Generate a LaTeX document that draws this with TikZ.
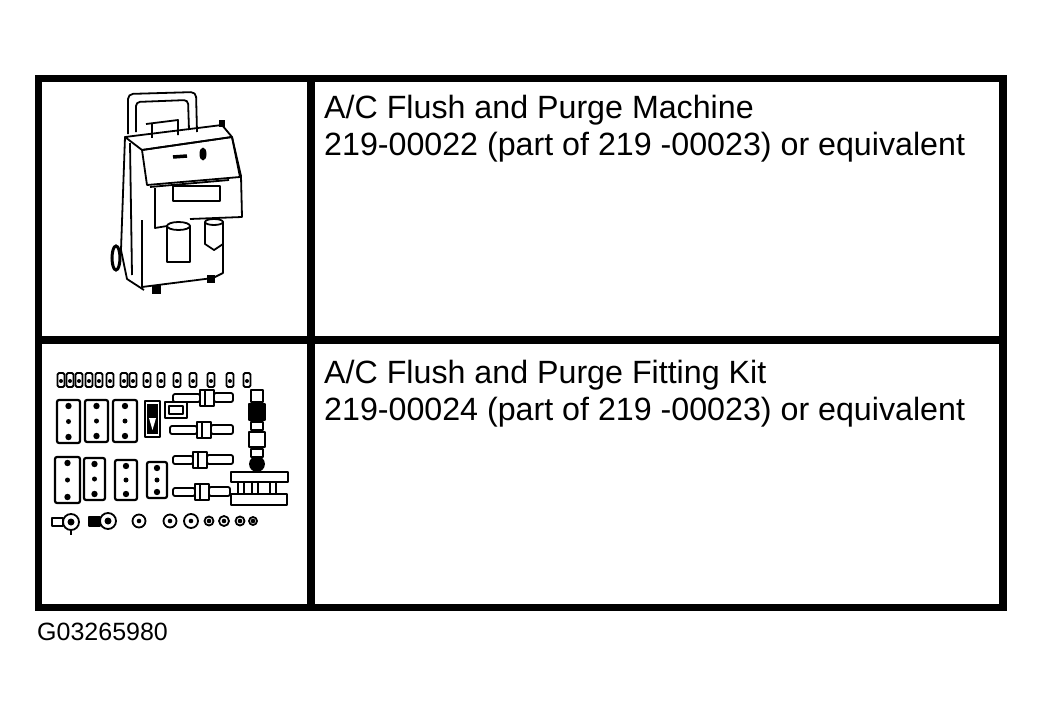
\documentclass[tikz,border=0pt]{standalone}
\usepackage{fontspec}
\setmainfont{Liberation Sans}
\tikzset{
	frame/.style={line width=7.5pt},
	part/.style={line width=1.8pt, line join=round},
	cell text/.style={anchor=base west, inner sep=0pt, font=\fontsize{32.2}{37}\selectfont},
	fig id/.style={anchor=base west, inner sep=0pt, font=\fontsize{25}{28}\selectfont}
}

\begin{document}
\begin{tikzpicture}[x=1pt, y=-1pt]
	\useasboundingbox (0,0) rectangle (1044,717);
	% table
	\draw[frame] (38.5,78.5) rectangle (1003,607.5);
	\draw[frame] (311,78.5) -- (311,607.5);
	\draw[frame] (38.5,340) -- (1003,340);
	% texts
	\node[cell text] (machineName) at (324,118) {A/C Flush and Purge Machine};
	\node[cell text] (machineNo) at (324,155) {219-00022 (part of 219 -00023) or equivalent};
	\node[cell text] (kitName) at (324,383) {A/C Flush and Purge Fitting Kit};
	\node[cell text] (kitNo) at (324,420) {219-00024 (part of 219 -00023) or equivalent};
	\node[fig id] (figId) at (37,640) {G03265980};
	% flush machine
	\draw[part, rounded corners=5pt] (128,134) -- (128,94) -- (196,92) -- (197,132);
	\draw[part, rounded corners=4pt] (136,132) -- (136,102) -- (188,100) -- (189,130);
	\draw[part] (146,124) -- (178,120) -- (178,135);
	\draw[part] (152,123) -- (152,138);
	\fill (219,120) rectangle (225,127);
	\draw[part] (125,137) -- (222,125) -- (232,137) -- (142,150) -- cycle;
	\draw[part] (142,150) -- (232,137) -- (240,177) -- (147,185) -- cycle;
	\draw[part] (232,137) -- (241,176) -- (242,217) -- (190,219);
	\draw[part] (150,187) -- (229,180);
	\draw[part] (173,186) rectangle (220,201);
	\draw[part] (155,188) -- (155,228) -- (167,226);
	\draw[part] (125,137) -- (121,250) -- (127,279) -- (144,290);
	\draw[part] (130,143) -- (132,275);
	\draw[part] (142,220) -- (142,287) -- (213,278) -- (223,273) -- (223,222);
	\draw[line width=3pt] (116,258) ellipse[x radius=4pt, y radius=12pt];
	\fill (152,285) rectangle (161,294);
	\fill (207,275) rectangle (215,283);
	\draw[part] (167,226) -- (167,262) -- (190,262) -- (190,226);
	\draw[part] (178.5,226) ellipse[x radius=11.5pt, y radius=4pt];
	\draw[part] (205,222) -- (205,244) -- (214,250) -- (223,244) -- (223,222);
	\draw[part] (214,222) ellipse[x radius=9pt, y radius=3pt];
	\draw[line width=3.5pt] (173,157) -- (187,156);
	\fill (203,154) ellipse[x radius=3.5pt, y radius=6.5pt];
	% fitting kit: caps
	\foreach \cx in {61,70,79,89,99,110,124,133,147,161,177,193,211,230,247} {
		\draw[part, rounded corners=1.5pt] (\cx-3.5,373) rectangle (\cx+3.5,387);
		\fill (\cx,381) circle[radius=2pt];
	}
	% plates
	\foreach \xa/\ya/\xb/\yb in {57/400/80/443, 85/400/108/442, 113/400/137/442, 55/457/80/503, 84/458/105/500, 115/460/137/500, 147/462/167/498} {
		\draw[part, line width=2.2pt, rounded corners=2pt] (\xa,\ya) rectangle (\xb,\yb);
		\fill ({(\xa+\xb)/2},{\ya+6}) circle[radius=3.2pt];
		\fill ({(\xa+\xb)/2},{(\ya+\yb)/2}) circle[radius=2.5pt];
		\fill ({(\xa+\xb)/2},{\yb-6}) circle[radius=3.2pt];
	}
	\draw[part] (145,401) rectangle (160,437);
	\fill (147,404) rectangle (158,434);
	\fill[white] (149,418) -- (156,418) -- (152.5,430) -- cycle;
	% couplers
	\foreach \yc/\xs/\xm/\xe in {398/173/200/233, 430/170/197/233, 460/173/193/233, 492/173/195/230} {
		\draw[part, rounded corners=2pt] (\xs,\yc-4) rectangle (\xm,\yc+4);
		\draw[part, fill=white] (\xm,\yc-8) rectangle (\xm+14,\yc+8);
		\draw[part] (\xm+5,\yc-8) -- (\xm+5,\yc+8);
		\draw[part, rounded corners=2pt] (\xm+14,\yc-5) rectangle (\xe,\yc+4);
	}
	\draw[part, fill=white] (165,402) rectangle (187,418);
	\draw[part] (169,406) rectangle (183,414);
	% valve stack
	\draw[part] (251,390) rectangle (263,402);
	\draw[part, fill=black] (249,404) rectangle (265,420);
	\draw[part] (251,422) rectangle (263,430);
	\draw[part] (249,432) rectangle (265,447);
	\draw[part] (251,449) rectangle (263,457);
	\draw[part, fill=black] (257,464) circle[radius=7pt];
	% manifold
	\draw[part] (231,472) rectangle (288,482);
	\draw[part] (231,494) rectangle (287,505);
	\foreach \px in {238,252,270}
		\draw[part] (\px,482) rectangle (\px+6,494);
	% adapters
	\draw[part] (52,518) rectangle (63,526);
	\draw[part] (71,522) circle[radius=8pt];
	\fill (71,522) circle[radius=3.5pt];
	\draw[part] (71,530) -- (71,535);
	\draw[part, fill=black] (89,517) rectangle (100,526);
	\draw[part] (108,521) circle[radius=8pt];
	\fill (108,521) circle[radius=3.5pt];
	\foreach \bx/\br in {139/6.5, 170/6.5, 191/7, 209/4.5, 224/5, 240/4.5, 253/4} {
		\draw[part] (\bx,521) circle[radius=\br pt];
		\fill (\bx,521) circle[radius=2.3pt];
	}
\end{tikzpicture}
\end{document}
